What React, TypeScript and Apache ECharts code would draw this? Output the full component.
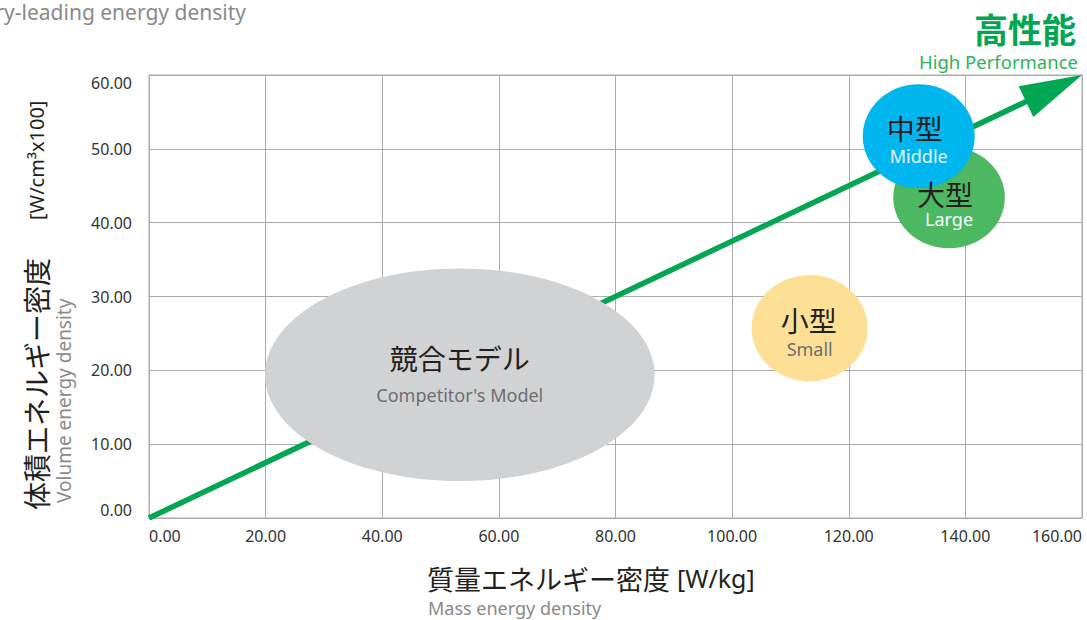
import React, { useEffect, useRef } from "react";
import * as echarts from "echarts";

// Axis ranges
const xMin = 0;
const xMax = 160;
const xStep = 20;
const yMin = 0;
const yMax = 60;
const yStep = 10;

// Trend arrow (data coordinates)
const arrowStart = [0, 0];
const arrowEnd = [160, 60];

// Bubbles
const bubbleNames = ["競合モデル", "小型", "大型", "中型"];
const bubbleSubs = ["Competitor's Model", "Small", "Large", "Middle"];
const bubbleX = [53.3, 113.3, 137.2, 132.0];
const bubbleY = [19.4, 25.7, 43.4, 51.7];
const bubbleRx = [33.4, 9.95, 9.57, 9.6];
const bubbleRy = [14.4, 7.2, 6.88, 7.04];

// Styles (kept apart from the data)
const bubbleStyles = [
  { fill: "#d1d2d4", nameColor: "#231f20", subColor: "#6d6e70", nameDx: 0, nameDy: -17, subDy: 20 },
  { fill: "#fde096", nameColor: "#231f20", subColor: "#6d6e70", nameDx: -1, nameDy: -8, subDy: 21 },
  { fill: "#4cb862", nameColor: "#231f20", subColor: "#ffffff", nameDx: -4, nameDy: -4, subDy: 21 },
  { fill: "#00b6ef", nameColor: "#231f20", subColor: "#e6f7fd", nameDx: -4, nameDy: -8, subDy: 20 },
];

const GREEN = "#00a651";
const GRID_COLOR = "#ababab";
const JP = "'Noto Sans CJK JP', 'Noto Sans', sans-serif";
const LAT = "'Noto Sans', 'DejaVu Sans', sans-serif";

export default function App() {
  const ref = useRef<HTMLDivElement>(null);

  useEffect(() => {
    if (!ref.current) return;
    const chart = echarts.init(ref.current, undefined, { renderer: "svg" });

    const bubbleData = bubbleX.map((x, i) => [x, bubbleY[i], bubbleRx[i], bubbleRy[i]]);

    const option: any = {
      animation: false,
      backgroundColor: "#ffffff",
      grid: {
        left: 149,
        right: 5,
        top: 75,
        bottom: 102,
        show: true,
        borderColor: GRID_COLOR,
        borderWidth: 1,
        containLabel: false,
        outerBoundsMode: "none",
      },
      xAxis: {
        type: "value",
        min: xMin,
        max: xMax,
        interval: xStep,
        axisLine: { show: true, lineStyle: { color: GRID_COLOR, width: 1 } },
        axisTick: { show: false },
        splitLine: { show: true, lineStyle: { color: GRID_COLOR, width: 1 } },
        axisLabel: {
          formatter: (v: number) => v.toFixed(2),
          color: "#333333",
          fontSize: 16,
          fontFamily: LAT,
          margin: 10,
          alignMinLabel: "left",
          alignMaxLabel: "right",
        },
      },
      yAxis: {
        type: "value",
        min: yMin,
        max: yMax,
        interval: yStep,
        axisLine: { show: true, lineStyle: { color: GRID_COLOR, width: 1 } },
        axisTick: { show: false },
        splitLine: { show: true, lineStyle: { color: GRID_COLOR, width: 1 } },
        axisLabel: {
          formatter: (v: number) => v.toFixed(2),
          color: "#333333",
          fontSize: 16,
          fontFamily: LAT,
          margin: 17,
          verticalAlignMinLabel: "bottom",
          verticalAlignMaxLabel: "top",
        },
      },
      series: [
        {
          type: "custom",
          name: "arrow",
          clip: false,
          silent: true,
          encode: { x: [0, 2], y: [1, 3] },
          data: [[arrowStart[0], arrowStart[1], arrowEnd[0], arrowEnd[1]]],
          renderItem: (params: any, api: any) => {
            const p0 = api.coord([api.value(0), api.value(1)]);
            const p1 = api.coord([api.value(2), api.value(3)]);
            const dx = p1[0] - p0[0];
            const dy = p1[1] - p0[1];
            const len = Math.sqrt(dx * dx + dy * dy);
            const ux = dx / len;
            const uy = dy / len;
            const headLen = 62;
            const headW = 34;
            const bx = p1[0] - ux * headLen;
            const by = p1[1] - uy * headLen;
            const px = -uy;
            const py = ux;
            return {
              type: "group",
              children: [
                {
                  type: "line",
                  shape: { x1: p0[0], y1: p0[1], x2: bx + ux * 4, y2: by + uy * 4 },
                  style: { stroke: GREEN, lineWidth: 5.5, lineCap: "butt" },
                },
                {
                  type: "polygon",
                  shape: {
                    points: [
                      [p1[0], p1[1]],
                      [bx + (px * headW) / 2, by + (py * headW) / 2],
                      [bx - (px * headW) / 2, by - (py * headW) / 2],
                    ],
                  },
                  style: { fill: GREEN },
                },
              ],
            };
          },
        },
        {
          type: "custom",
          name: "bubbles",
          clip: false,
          silent: true,
          encode: { x: 0, y: 1 },
          data: bubbleData,
          renderItem: (params: any, api: any) => {
            const i = params.dataIndex;
            const st = bubbleStyles[i];
            const c = api.coord([api.value(0), api.value(1)]);
            const s = api.size([api.value(2), api.value(3)], [api.value(0), api.value(1)]);
            return {
              type: "group",
              children: [
                {
                  type: "ellipse",
                  z2: i,
                  shape: { cx: c[0], cy: c[1], rx: s[0], ry: s[1] },
                  style: { fill: st.fill },
                },
                {
                  type: "text",
                  z2: 100,
                  x: c[0] + st.nameDx,
                  y: c[1] + st.nameDy,
                  style: {
                    text: bubbleNames[i],
                    fill: st.nameColor,
                    fontSize: 28,
                    lineHeight: 28,
                    fontFamily: JP,
                    textAlign: "center",
                    verticalAlign: "middle",
                  },
                },
                {
                  type: "text",
                  z2: 100,
                  x: c[0],
                  y: c[1] + st.subDy,
                  style: {
                    text: bubbleSubs[i],
                    fill: st.subColor,
                    fontSize: 18,
                    lineHeight: 18,
                    fontFamily: LAT,
                    textAlign: "center",
                    verticalAlign: "middle",
                  },
                },
              ],
            };
          },
        },
      ],
      graphic: [
        {
          type: "text",
          x: 246,
          y: 12,
          style: {
            text: "Industry-leading energy density",
            fill: "#8a8a8a",
            fontSize: 21,
            fontFamily: LAT,
            textAlign: "right",
            verticalAlign: "middle",
          },
        },
        {
          type: "text",
          x: 1076,
          y: 28,
          style: {
            text: "高性能",
            fill: GREEN,
            fontSize: 34,
            fontWeight: "bold",
            fontFamily: JP,
            textAlign: "right",
            verticalAlign: "middle",
          },
        },
        {
          type: "text",
          x: 1078,
          y: 61,
          style: {
            text: "High Performance",
            fill: "#2fb35b",
            fontSize: 18.5,
            fontFamily: LAT,
            textAlign: "right",
            verticalAlign: "middle",
          },
        },
        {
          type: "text",
          x: 36,
          y: 510,
          rotation: Math.PI / 2,
          style: {
            text: "{jp|体積エネルギー密度}{en|[W/cm³x100]}",
            fill: "#231f20",
            textAlign: "left",
            verticalAlign: "middle",
            rich: {
              jp: { fontSize: 28, fontFamily: JP, fill: "#231f20" },
              en: { fontSize: 20, fontFamily: LAT, fill: "#231f20", padding: [0, 0, 0, 38] },
            },
          },
        },
        {
          type: "text",
          x: 64,
          y: 503,
          rotation: Math.PI / 2,
          style: {
            text: "Volume energy density",
            fill: "#8a8a8a",
            fontSize: 19,
            fontFamily: LAT,
            textAlign: "left",
            verticalAlign: "middle",
          },
        },
        {
          type: "text",
          x: 427,
          y: 578,
          style: {
            text: "{jp|質量エネルギー密度}{en|[W/kg]}",
            fill: "#231f20",
            textAlign: "left",
            verticalAlign: "middle",
            rich: {
              jp: { fontSize: 27, fontFamily: JP, fill: "#231f20" },
              en: { fontSize: 25, fontFamily: LAT, fill: "#231f20", padding: [0, 0, 0, 7] },
            },
          },
        },
        {
          type: "text",
          x: 428,
          y: 608,
          style: {
            text: "Mass energy density",
            fill: "#8a8a8a",
            fontSize: 18,
            fontFamily: LAT,
            textAlign: "left",
            verticalAlign: "middle",
          },
        },
      ],
    };

    chart.setOption(option);
    return () => chart.dispose();
  }, []);

  return (
    <div
      ref={ref}
      style={{ position: "fixed", left: 0, top: 0, width: 1087, height: 620 }}
    />
  );
}
